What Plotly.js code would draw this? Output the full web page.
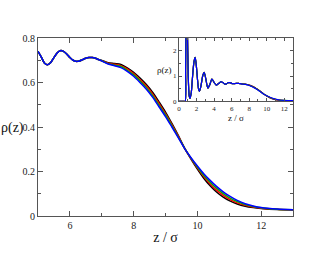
<!DOCTYPE html>
<html>
<head>
<meta charset="utf-8">
<script src="https://cdn.plot.ly/plotly-3.0.1.min.js"></script>
<style>html,body{margin:0;padding:0;background:#fff;}#chart{width:330px;height:255px;}</style>
</head>
<body>
<div id="chart"></div>
<script>
// Near-wall region (shown only in the inset), shared by all series
const zInner =   [0, 0.5, 0.70, 0.75, 0.80, 0.88, 0.95, 1.05, 1.15, 1.26, 1.40, 1.55, 1.70, 1.84, 1.95, 2.10, 2.22, 2.33, 2.50, 2.70, 2.87, 3.05, 3.20, 3.30, 3.50, 3.75, 4.00, 4.25, 4.50, 4.80, 4.90];
const rhoInner = [0, 0,   0.00, 1.20, 3.00, 4.20, 3.00, 1.00, 0.25, 0.12, 0.35, 1.00, 1.55, 1.74, 1.50, 0.90, 0.50, 0.39, 0.60, 1.00, 1.14, 0.90, 0.62, 0.52, 0.65, 0.88, 0.75, 0.64, 0.70, 0.78, 0.765];

// Main region z / sigma
const z = [5.0, 5.1, 5.2, 5.3, 5.4, 5.5, 5.6, 5.7, 5.8, 5.9, 6.0, 6.1, 6.2, 6.3, 6.4, 6.5, 6.6, 6.7, 6.8, 6.9,
           7.0, 7.2, 7.4, 7.6, 7.8, 8.0, 8.2, 8.4, 8.6, 8.8, 9.0, 9.2, 9.4, 9.6, 9.8, 10.0, 10.2, 10.4, 10.6, 10.8,
           11.0, 11.25, 11.5, 11.75, 12.0, 12.5, 13.0];
const rhoHead = [0.740, 0.715, 0.688, 0.680, 0.690, 0.712, 0.733, 0.743, 0.740, 0.728, 0.712, 0.700, 0.695, 0.697, 0.703, 0.709, 0.712, 0.712, 0.709, 0.703];

const rhoBlack = [0.699, 0.689, 0.685, 0.681, 0.666, 0.646, 0.620, 0.591, 0.555, 0.512, 0.467, 0.416, 0.362, 0.305, 0.256, 0.211, 0.170, 0.136, 0.108, 0.086, 0.069, 0.054, 0.044, 0.038, 0.034, 0.029, 0.027];
const rhoRed   = [0.698, 0.687, 0.682, 0.676, 0.661, 0.640, 0.613, 0.584, 0.548, 0.505, 0.460, 0.411, 0.359, 0.304, 0.258, 0.216, 0.177, 0.144, 0.116, 0.094, 0.076, 0.059, 0.048, 0.040, 0.035, 0.030, 0.027];
const rhoGreen = [0.698, 0.685, 0.678, 0.672, 0.655, 0.634, 0.607, 0.577, 0.540, 0.497, 0.454, 0.405, 0.355, 0.304, 0.260, 0.220, 0.183, 0.152, 0.125, 0.102, 0.083, 0.065, 0.051, 0.043, 0.037, 0.030, 0.028];
const rhoBlue  = [0.697, 0.683, 0.675, 0.667, 0.650, 0.628, 0.600, 0.570, 0.533, 0.490, 0.447, 0.400, 0.352, 0.303, 0.262, 0.225, 0.190, 0.160, 0.133, 0.110, 0.090, 0.070, 0.055, 0.045, 0.038, 0.031, 0.028];

const seriesColors = ['#000000', '#ff0000', '#00b000', '#0000ff'];
const seriesTails = [rhoBlack, rhoRed, rhoGreen, rhoBlue];

const font = '"Liberation Serif", "Times New Roman", serif';
const traces = [];
seriesTails.forEach((tail, i) => {
  const y = rhoHead.concat(tail);
  traces.push({x: z, y: y, type: 'scatter', mode: 'lines', xaxis: 'x', yaxis: 'y',
    line: {color: seriesColors[i], width: 1.5, shape: 'spline', smoothing: 0.8}, showlegend: false, hoverinfo: 'skip'});
});
seriesTails.forEach((tail, i) => {
  traces.push({x: zInner.concat(z), y: rhoInner.concat(rhoHead, tail), type: 'scatter', mode: 'lines', xaxis: 'x2', yaxis: 'y2',
    line: {color: seriesColors[i], width: 1.2, shape: 'spline', smoothing: 0.6}, showlegend: false, hoverinfo: 'skip', cliponaxis: true});
});

const axisBase = {showline: true, linecolor: '#555', linewidth: 1, mirror: 'allticks', ticks: 'inside',
  tickcolor: '#555', showgrid: false, zeroline: false, tickfont: {family: font, size: 10, color: '#222'}};

const layout = {
  width: 330, height: 255,
  margin: {l: 38, r: 37, t: 38, b: 39},
  paper_bgcolor: '#fff', plot_bgcolor: '#fff',
  xaxis: Object.assign({}, axisBase, {range: [5, 13], tickvals: [6, 8, 10, 12], ticklen: 5,
    minor: {tickvals: [7, 9, 11], ticklen: 3, ticks: 'inside', tickcolor: '#555'},
    title: {text: 'z / σ', font: {family: font, size: 14, color: '#111'}, standoff: 2}}),
  yaxis: Object.assign({}, axisBase, {range: [0, 0.8], tickvals: [0, 0.2, 0.4, 0.6, 0.8], ticktext: ['0', '0.2', '0.4', '0.6', '0.8'],
    ticklen: 5, minor: {tickvals: [0.1, 0.3, 0.5, 0.7], ticklen: 3, ticks: 'inside', tickcolor: '#555'}}),
  xaxis2: Object.assign({}, axisBase, {domain: [0.553, 1], anchor: 'y2', range: [0, 13], tickvals: [0, 2, 4, 6, 8, 10, 12],
    ticklen: 3, tickfont: {family: font, size: 7, color: '#222'},
    minor: {tickvals: [1, 3, 5, 7, 9, 11], ticklen: 2, ticks: 'inside', tickcolor: '#555'},
    title: {text: 'z / σ', font: {family: font, size: 9, color: '#111'}, standoff: 2}}),
  yaxis2: Object.assign({}, axisBase, {domain: [0.644, 1], anchor: 'x2', range: [0, 2.5], tickvals: [0, 1, 2],
    ticklen: 3, tickfont: {family: font, size: 7, color: '#222'},
    minor: {tickvals: [0.5, 1.5], ticklen: 2, ticks: 'inside', tickcolor: '#555'}}),
  annotations: [
    {text: 'ρ(z)', xref: 'paper', yref: 'paper', x: -0.1, y: 0.495, xanchor: 'center', yanchor: 'middle', showarrow: false,
      font: {family: font, size: 14, color: '#111'}},
    {text: 'ρ(z)', xref: 'paper', yref: 'paper', x: 0.495, y: 0.82, xanchor: 'center', yanchor: 'middle', showarrow: false,
      font: {family: font, size: 9, color: '#111'}}
  ]
};

Plotly.newPlot('chart', traces, layout, {staticPlot: true, displayModeBar: false});
</script>
</body>
</html>
